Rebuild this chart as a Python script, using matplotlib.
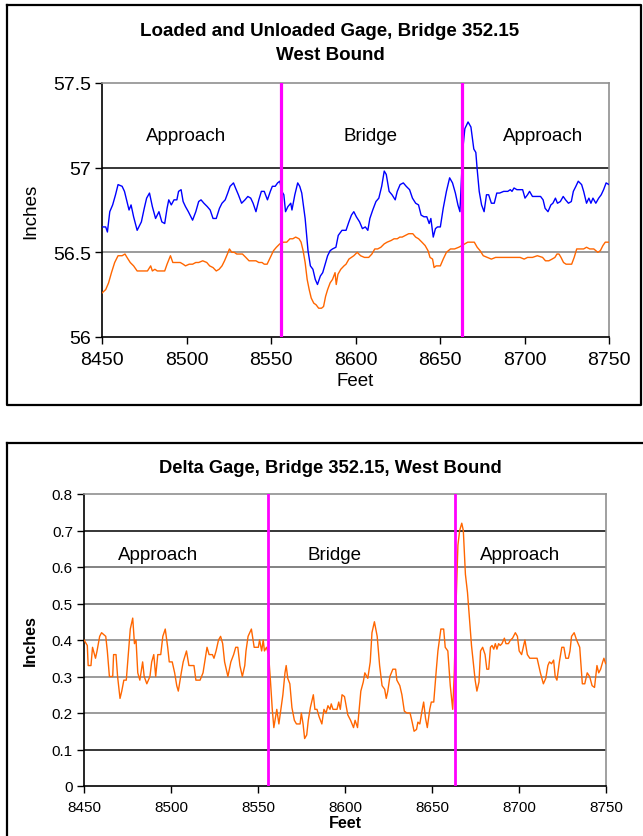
import matplotlib
matplotlib.use("Agg")
import matplotlib.pyplot as plt
from matplotlib.lines import Line2D

plt.rcParams['font.family'] = ['Liberation Sans', 'DejaVu Sans']

# ---- top chart: loaded / unloaded gage ----
loaded_ft = [8450.0, 8452.2, 8453.2, 8454.6, 8456.3, 8458.0, 8459.5, 8461.9, 8463.3, 8464.8,
             8466.0, 8467.2, 8468.7, 8470.8, 8473.3, 8475.0, 8476.4, 8478.1, 8479.8, 8481.7,
             8483.7, 8485.4, 8487.1, 8488.5, 8489.5, 8491.0, 8492.6, 8494.3, 8495.3, 8496.8,
             8498.0, 8499.4, 8501.1, 8503.6, 8505.5, 8507.2, 8508.6, 8510.3, 8512.3, 8514.0,
             8515.7, 8517.6, 8519.5, 8521.0, 8522.9, 8524.4, 8525.8, 8527.8, 8529.0, 8530.7,
             8532.6, 8534.6, 8536.3, 8538.0, 8539.4, 8541.1, 8542.8, 8544.3, 8546.0, 8547.9,
             8549.6, 8550.8, 8552.5, 8553.9, 8555.2, 8556.4, 8557.6, 8558.6, 8560.0, 8561.7,
             8562.4, 8564.1, 8565.8, 8567.0, 8568.2, 8570.2, 8571.9, 8573.3, 8574.8, 8576.2,
             8577.5, 8579.2, 8580.6, 8582.3, 8583.5, 8585.0, 8586.4, 8588.4, 8589.8, 8592.0,
             8594.4, 8596.1, 8597.6, 8599.0, 8600.5, 8602.4, 8604.1, 8605.8, 8607.3, 8608.5,
             8610.2, 8612.1, 8613.8, 8615.5, 8617.0, 8618.2, 8619.9, 8621.6, 8623.5, 8624.7,
             8626.4, 8628.3, 8630.0, 8632.0, 8633.7, 8635.6, 8637.3, 8638.8, 8640.5, 8642.2,
             8643.6, 8644.6, 8646.0, 8647.3, 8648.5, 8650.2, 8651.9, 8653.8, 8655.7, 8657.4,
             8659.1, 8660.6, 8661.8, 8663.5, 8664.7, 8666.6, 8668.3, 8670.0, 8671.2, 8672.0,
             8673.2, 8674.6, 8676.1, 8677.5, 8678.8, 8680.4, 8682.1, 8683.6, 8685.3, 8687.7,
             8690.1, 8691.6, 8692.6, 8693.8, 8695.5, 8697.4, 8698.9, 8700.3, 8701.8, 8703.0,
             8704.7, 8707.1, 8709.5, 8711.0, 8712.2, 8713.9, 8715.6, 8716.8, 8718.3, 8719.5,
             8721.2, 8722.9, 8724.3, 8726.0, 8727.7, 8728.9, 8730.4, 8731.8, 8733.8, 8735.0,
             8736.7, 8738.1, 8739.3, 8740.5, 8742.2, 8743.9, 8745.4, 8746.8, 8748.3, 8750.0]
loaded_in = [56.65, 56.65, 56.62, 56.74, 56.78, 56.84, 56.90, 56.89, 56.86, 56.80,
             56.75, 56.78, 56.71, 56.63, 56.68, 56.76, 56.82, 56.85, 56.77, 56.70,
             56.74, 56.68, 56.67, 56.76, 56.81, 56.78, 56.81, 56.81, 56.86, 56.87,
             56.80, 56.77, 56.74, 56.69, 56.74, 56.80, 56.81, 56.79, 56.77, 56.75,
             56.70, 56.70, 56.76, 56.79, 56.81, 56.85, 56.89, 56.91, 56.88, 56.84,
             56.79, 56.81, 56.83, 56.82, 56.79, 56.74, 56.81, 56.86, 56.86, 56.81,
             56.86, 56.89, 56.89, 56.91, 56.92, 56.86, 56.84, 56.74, 56.77, 56.79,
             56.75, 56.84, 56.91, 56.89, 56.85, 56.70, 56.51, 56.42, 56.40, 56.34,
             56.31, 56.36, 56.38, 56.44, 56.48, 56.51, 56.52, 56.53, 56.60, 56.63,
             56.63, 56.68, 56.72, 56.74, 56.71, 56.68, 56.64, 56.65, 56.63, 56.70,
             56.75, 56.80, 56.82, 56.89, 56.98, 56.96, 56.86, 56.84, 56.81, 56.86,
             56.90, 56.91, 56.89, 56.87, 56.82, 56.79, 56.78, 56.72, 56.71, 56.71,
             56.67, 56.70, 56.59, 56.64, 56.65, 56.65, 56.76, 56.86, 56.94, 56.91,
             56.85, 56.78, 56.74, 57.11, 57.23, 57.27, 57.24, 57.11, 57.09, 56.99,
             56.86, 56.78, 56.74, 56.84, 56.84, 56.79, 56.79, 56.85, 56.85, 56.86,
             56.86, 56.87, 56.86, 56.88, 56.87, 56.87, 56.87, 56.82, 56.84, 56.86,
             56.83, 56.83, 56.83, 56.81, 56.76, 56.74, 56.78, 56.79, 56.82, 56.79,
             56.80, 56.83, 56.81, 56.79, 56.80, 56.86, 56.89, 56.92, 56.90, 56.86,
             56.79, 56.82, 56.79, 56.82, 56.79, 56.82, 56.84, 56.87, 56.91, 56.90]

unloaded_ft = [8450.0, 8452.2, 8453.9, 8455.6, 8457.5, 8459.5, 8461.9, 8463.6, 8464.8, 8466.7,
               8468.7, 8470.8, 8473.3, 8476.9, 8478.8, 8479.8, 8481.3, 8482.7, 8485.4, 8487.1,
               8488.5, 8490.5, 8491.9, 8493.9, 8496.3, 8498.0, 8499.4, 8501.6, 8503.6, 8505.5,
               8507.2, 8509.6, 8512.0, 8513.7, 8515.7, 8517.6, 8519.3, 8521.0, 8522.5, 8524.2,
               8525.4, 8526.8, 8528.3, 8529.7, 8531.4, 8533.1, 8535.1, 8537.0, 8538.9, 8541.1,
               8542.8, 8544.7, 8546.0, 8547.7, 8549.6, 8551.5, 8553.2, 8555.2, 8557.4, 8559.3,
               8561.2, 8562.9, 8564.6, 8566.6, 8567.8, 8569.0, 8570.2, 8571.4, 8572.6, 8573.8,
               8575.3, 8576.7, 8578.2, 8579.9, 8581.1, 8582.3, 8583.5, 8585.0, 8586.4, 8587.9,
               8588.6, 8589.6, 8591.3, 8593.2, 8594.4, 8596.1, 8597.6, 8599.0, 8601.0, 8603.0,
               8605.3, 8607.8, 8609.7, 8611.4, 8613.1, 8615.0, 8617.0, 8618.7, 8621.1, 8622.8,
               8624.7, 8626.2, 8627.6, 8629.6, 8631.5, 8633.9, 8635.6, 8637.3, 8639.3, 8641.2,
               8642.9, 8644.1, 8645.6, 8646.5, 8647.7, 8650.2, 8651.9, 8653.8, 8656.2, 8658.6,
               8661.1, 8663.0, 8664.7, 8666.4, 8668.3, 8670.3, 8672.0, 8673.7, 8675.6, 8678.0,
               8680.4, 8682.9, 8685.3, 8687.7, 8690.1, 8692.6, 8695.0, 8697.4, 8699.8, 8701.8,
               8704.7, 8707.6, 8710.7, 8712.4, 8714.4, 8716.3, 8718.0, 8719.2, 8720.4, 8721.6,
               8723.1, 8724.6, 8726.5, 8727.9, 8729.4, 8730.9, 8732.8, 8735.0, 8736.7, 8738.6,
               8741.0, 8743.4, 8744.9, 8746.4, 8747.8, 8750.0]
unloaded_in = [56.26, 56.28, 56.32, 56.38, 56.44, 56.48, 56.48, 56.49, 56.47, 56.44,
               56.42, 56.39, 56.39, 56.39, 56.42, 56.39, 56.40, 56.39, 56.39, 56.39,
               56.43, 56.48, 56.44, 56.44, 56.44, 56.43, 56.42, 56.43, 56.43, 56.44,
               56.44, 56.45, 56.44, 56.42, 56.41, 56.39, 56.40, 56.42, 56.45, 56.49,
               56.52, 56.50, 56.50, 56.49, 56.49, 56.49, 56.47, 56.45, 56.45, 56.45,
               56.44, 56.44, 56.43, 56.43, 56.47, 56.51, 56.53, 56.55, 56.56, 56.56,
               56.58, 56.58, 56.59, 56.58, 56.56, 56.51, 56.44, 56.34, 56.28, 56.23,
               56.20, 56.19, 56.17, 56.17, 56.18, 56.24, 56.28, 56.32, 56.34, 56.38,
               56.31, 56.37, 56.40, 56.42, 56.43, 56.46, 56.47, 56.48, 56.50, 56.48,
               56.47, 56.47, 56.49, 56.52, 56.52, 56.53, 56.55, 56.56, 56.57, 56.58,
               56.58, 56.59, 56.59, 56.60, 56.61, 56.61, 56.59, 56.58, 56.56, 56.54,
               56.51, 56.47, 56.46, 56.41, 56.42, 56.42, 56.46, 56.50, 56.52, 56.52,
               56.53, 56.54, 56.55, 56.56, 56.56, 56.56, 56.53, 56.51, 56.48, 56.47,
               56.46, 56.47, 56.47, 56.47, 56.47, 56.47, 56.47, 56.47, 56.46, 56.47,
               56.47, 56.48, 56.47, 56.45, 56.45, 56.46, 56.47, 56.49, 56.49, 56.47,
               56.44, 56.43, 56.43, 56.43, 56.47, 56.52, 56.52, 56.52, 56.53, 56.52,
               56.52, 56.50, 56.51, 56.54, 56.56, 56.56]

# ---- bottom chart: delta gage ----
delta_ft = [8450.0, 8451.9, 8452.4, 8454.0, 8454.9, 8456.6, 8457.5, 8459.0, 8460.1, 8462.5,
            8463.4, 8464.6, 8466.5, 8467.0, 8468.4, 8469.3, 8470.7, 8471.7, 8472.9, 8474.3,
            8476.6, 8478.0, 8479.0, 8479.9, 8480.9, 8482.1, 8483.7, 8484.6, 8486.1, 8487.9,
            8488.9, 8490.1, 8491.2, 8492.4, 8494.1, 8495.3, 8496.7, 8498.1, 8499.0, 8500.7,
            8502.1, 8503.3, 8504.2, 8505.9, 8507.0, 8508.9, 8510.3, 8512.0, 8513.2, 8514.3,
            8516.7, 8518.4, 8520.7, 8521.9, 8523.8, 8524.7, 8525.9, 8527.3, 8528.5, 8529.7,
            8530.8, 8532.7, 8534.4, 8536.0, 8537.2, 8538.4, 8539.6, 8541.0, 8542.4, 8543.1,
            8544.3, 8546.2, 8547.8, 8550.2, 8550.9, 8552.1, 8553.0, 8553.7, 8554.9, 8556.1,
            8557.2, 8558.2, 8559.1, 8560.8, 8562.0, 8564.3, 8565.5, 8566.2, 8567.1, 8568.3,
            8569.5, 8570.9, 8572.1, 8574.2, 8574.9, 8575.9, 8576.8, 8578.0, 8578.9, 8580.1,
            8581.8, 8582.7, 8583.9, 8585.1, 8586.7, 8587.9, 8589.1, 8590.2, 8591.4, 8592.1,
            8593.1, 8595.4, 8596.4, 8597.3, 8598.3, 8599.7, 8601.6, 8603.2, 8604.9, 8605.8,
            8607.2, 8609.1, 8610.5, 8611.4, 8613.1, 8614.5, 8615.5, 8616.9, 8618.5, 8619.9,
            8621.3, 8622.8, 8623.7, 8624.6, 8625.8, 8627.5, 8629.1, 8629.8, 8631.5, 8632.7,
            8634.1, 8635.5, 8637.4, 8638.6, 8639.7, 8641.1, 8641.9, 8643.0, 8644.4, 8645.2,
            8646.3, 8647.3, 8648.7, 8649.6, 8651.0, 8652.5, 8653.4, 8655.1, 8656.7, 8657.6,
            8659.1, 8660.5, 8661.9, 8662.8, 8663.8, 8664.9, 8665.9, 8667.1, 8668.0, 8669.2,
            8670.4, 8671.5, 8672.7, 8673.9, 8674.8, 8675.8, 8677.0, 8677.9, 8679.1, 8680.5,
            8681.5, 8682.6, 8683.6, 8684.5, 8685.5, 8686.4, 8687.3, 8688.3, 8689.2, 8690.2,
            8691.6, 8692.5, 8693.9, 8695.1, 8696.3, 8697.9, 8699.1, 8700.1, 8701.5, 8703.4,
            8704.8, 8706.2, 8710.4, 8712.3, 8714.0, 8715.4, 8716.6, 8717.5, 8718.7, 8719.9,
            8720.8, 8721.8, 8723.2, 8724.6, 8725.8, 8726.9, 8728.4, 8729.3, 8730.2, 8731.7,
            8733.1, 8734.9, 8736.4, 8737.8, 8739.2, 8740.6, 8742.0, 8743.4, 8744.8, 8745.8,
            8746.9, 8748.1, 8748.8, 8749.8, 8750.5]
delta_in = [0.40, 0.385, 0.33, 0.33, 0.38, 0.35, 0.37, 0.41, 0.42, 0.41,
            0.37, 0.30, 0.30, 0.36, 0.36, 0.30, 0.24, 0.26, 0.29, 0.29,
            0.43, 0.46, 0.39, 0.40, 0.31, 0.29, 0.34, 0.30, 0.28, 0.30,
            0.34, 0.36, 0.30, 0.36, 0.36, 0.41, 0.43, 0.38, 0.34, 0.34,
            0.31, 0.275, 0.26, 0.31, 0.34, 0.37, 0.33, 0.33, 0.33, 0.29,
            0.29, 0.31, 0.38, 0.36, 0.36, 0.35, 0.37, 0.40, 0.41, 0.39,
            0.34, 0.30, 0.34, 0.36, 0.38, 0.38, 0.33, 0.30, 0.33, 0.37,
            0.41, 0.43, 0.38, 0.38, 0.40, 0.37, 0.40, 0.37, 0.38, 0.36,
            0.285, 0.21, 0.16, 0.21, 0.17, 0.25, 0.31, 0.33, 0.295, 0.28,
            0.215, 0.18, 0.17, 0.17, 0.20, 0.17, 0.13, 0.14, 0.18, 0.215,
            0.25, 0.21, 0.21, 0.19, 0.17, 0.21, 0.20, 0.22, 0.21, 0.225,
            0.21, 0.21, 0.23, 0.21, 0.25, 0.245, 0.195, 0.18, 0.16, 0.18,
            0.16, 0.26, 0.285, 0.31, 0.295, 0.34, 0.42, 0.45, 0.41, 0.33,
            0.275, 0.265, 0.24, 0.26, 0.30, 0.32, 0.32, 0.29, 0.275, 0.25,
            0.205, 0.20, 0.20, 0.175, 0.15, 0.155, 0.175, 0.17, 0.21, 0.23,
            0.185, 0.16, 0.21, 0.23, 0.23, 0.32, 0.37, 0.43, 0.43, 0.38,
            0.37, 0.275, 0.21, 0.31, 0.495, 0.66, 0.70, 0.72, 0.70, 0.58,
            0.53, 0.46, 0.385, 0.33, 0.29, 0.26, 0.285, 0.37, 0.38, 0.36,
            0.32, 0.32, 0.38, 0.385, 0.375, 0.39, 0.375, 0.39, 0.385, 0.39,
            0.405, 0.39, 0.39, 0.40, 0.405, 0.42, 0.41, 0.37, 0.36, 0.40,
            0.36, 0.35, 0.35, 0.31, 0.28, 0.295, 0.33, 0.34, 0.335, 0.345,
            0.30, 0.29, 0.34, 0.38, 0.38, 0.35, 0.35, 0.37, 0.41, 0.42,
            0.40, 0.38, 0.28, 0.28, 0.31, 0.30, 0.275, 0.27, 0.33, 0.31,
            0.32, 0.34, 0.35, 0.335, 0.34]

x_ticks = [8450, 8500, 8550, 8600, 8650, 8700, 8750]
top_yticks = [56, 56.5, 57, 57.5]
top_ylabels = ['56', '56.5', '57', '57.5']
bot_yticks = [0, 0.1, 0.2, 0.3, 0.4, 0.5, 0.6, 0.7, 0.8]
bot_ylabels = ['0', '0.1', '0.2', '0.3', '0.4', '0.5', '0.6', '0.7', '0.8']
bridge_start = 8556
bridge_end = 8663

W, H = 643, 837
fig = plt.figure(figsize=(W / 100, H / 100), dpi=100)


def box(l, t, r, b):
    return [l / W, 1 - b / H, (r - l) / W, (b - t) / H]


def fx(x):
    return x / W


def fy(y):
    return 1 - y / H


# outer chart frames
fig.add_artist(Line2D([fx(7), fx(641), fx(641), fx(7), fx(7)],
                      [fy(6), fy(6), fy(406), fy(406), fy(6)], color='black', lw=1.6))
fig.add_artist(Line2D([fx(7), fx(643)], [fy(444), fy(444)], color='black', lw=1.6))
fig.add_artist(Line2D([fx(7), fx(7)], [fy(444), fy(837)], color='black', lw=1.6))


def style_axes(ax, grid_colors, yticks):
    ax.spines['top'].set_color('#909090')
    ax.spines['right'].set_color('#909090')
    ax.spines['left'].set_color('black')
    ax.spines['bottom'].set_color('black')
    for s in ax.spines.values():
        s.set_linewidth(1.2)
    ax.tick_params(direction='out', length=5, width=1, color='black')
    for yv, c in zip(yticks, grid_colors):
        if c:
            ax.axhline(yv, color=c, lw=1.1, zorder=1)


# ---------- top chart ----------
ax1 = fig.add_axes(box(102, 84, 609, 338))
ax1.plot(loaded_ft, loaded_in, color='#0000ff', lw=1.0, zorder=3)
ax1.plot(unloaded_ft, unloaded_in, color='#ff6600', lw=1.0, zorder=3)
ax1.axvline(bridge_start, color='#ff00ff', lw=2.3, zorder=4)
ax1.axvline(bridge_end, color='#ff00ff', lw=2.3, zorder=4)
ax1.set_xlim(8450, 8750)
ax1.set_ylim(56, 57.5)
ax1.set_xticks(x_ticks)
ax1.set_xticklabels([str(v) for v in x_ticks], fontsize=14)
ax1.set_yticks(top_yticks)
ax1.set_yticklabels(top_ylabels, fontsize=14)
ax1.tick_params(axis='y', pad=3)
ax1.tick_params(axis='x', pad=5)
style_axes(ax1, [None, '#808080', 'black', None], top_yticks)
ax1.set_xlabel('Feet', fontsize=13.5, labelpad=3)
ax1.set_ylabel('Inches', fontsize=13.5, labelpad=10)
ax1.text(8500, 57.19, 'Approach', fontsize=13.5, ha='center', va='center')
ax1.text(8609, 57.19, 'Bridge', fontsize=13.5, ha='center', va='center')
ax1.text(8711, 57.19, 'Approach', fontsize=13.5, ha='center', va='center')
fig.text(fx(330), fy(31), 'Loaded and Unloaded Gage, Bridge 352.15', fontsize=13.5,
         fontweight='bold', ha='center', va='center')
fig.text(fx(330), fy(55), 'West Bound', fontsize=13.5, fontweight='bold',
         ha='center', va='center')

# ---------- bottom chart ----------
ax2 = fig.add_axes(box(84, 495, 606, 787))
ax2.plot(delta_ft, delta_in, color='#ff6600', lw=1.0, zorder=3)
ax2.axvline(bridge_start, color='#ff00ff', lw=2.0, zorder=4)
ax2.axvline(bridge_end, color='#ff00ff', lw=2.0, zorder=4)
ax2.set_xlim(8450, 8750)
ax2.set_ylim(0, 0.8)
ax2.set_xticks(x_ticks)
ax2.set_xticklabels([str(v) for v in x_ticks], fontsize=11)
ax2.set_yticks(bot_yticks)
ax2.set_yticklabels(bot_ylabels, fontsize=11)
ax2.tick_params(axis='y', pad=3)
ax2.tick_params(axis='x', pad=5)
style_axes(ax2, [None, 'black', '#808080', '#808080', '#808080', '#606060', '#606060', 'black', None],
           bot_yticks)
ax2.set_xlabel('Feet', fontsize=11.5, fontweight='bold', labelpad=1)
ax2.set_ylabel('Inches', fontsize=11.5, fontweight='bold', labelpad=10)
ax2.text(8492.5, 0.635, 'Approach', fontsize=13.5, ha='center', va='center')
ax2.text(8594, 0.635, 'Bridge', fontsize=13.5, ha='center', va='center')
ax2.text(8700.5, 0.635, 'Approach', fontsize=13.5, ha='center', va='center')
fig.text(fx(330), fy(469), 'Delta Gage, Bridge 352.15, West Bound', fontsize=13.2,
         fontweight='bold', ha='center', va='center')

fig.savefig('out.png', dpi=100)
